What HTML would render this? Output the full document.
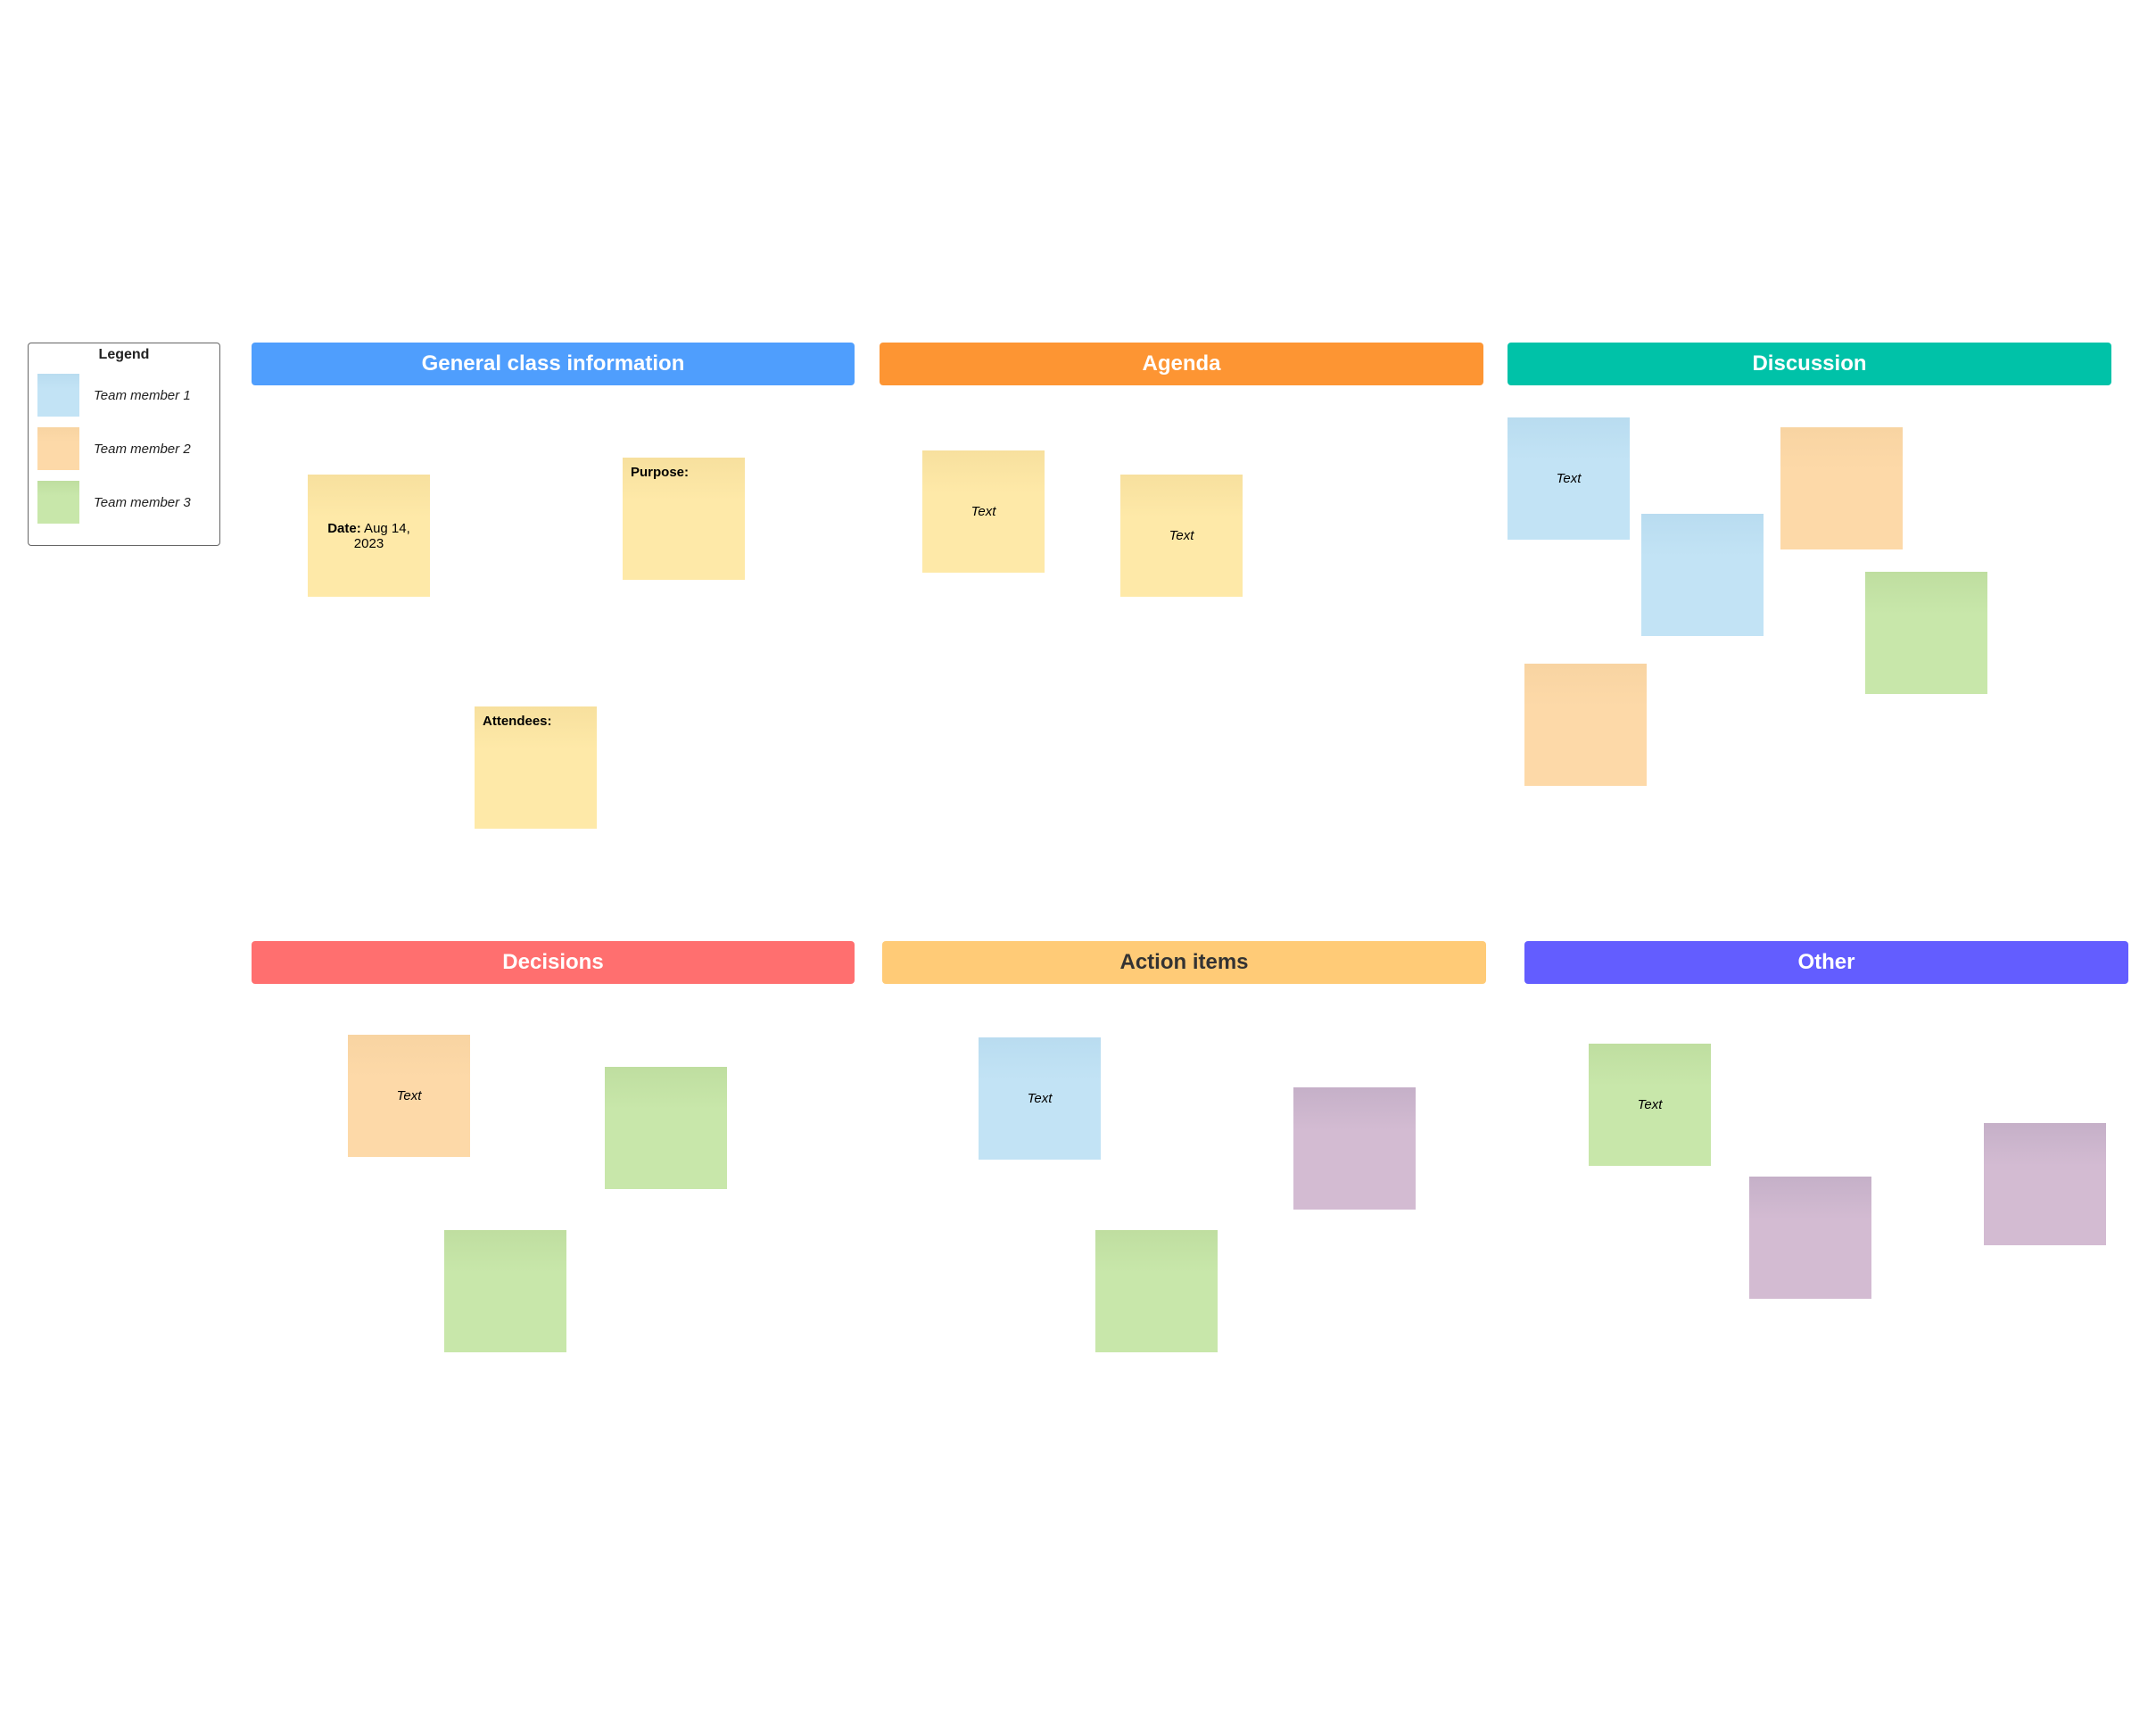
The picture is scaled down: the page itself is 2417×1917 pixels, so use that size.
<!DOCTYPE html>
<html><head><style>
body{margin:0;width:2417px;height:1917px;background:#fff;position:relative;overflow:hidden;font-family:"Liberation Sans",sans-serif}
.a{position:absolute}
.h{position:absolute;height:48px;border-radius:4px;color:#fff;font-weight:bold;font-size:24px;text-align:center;line-height:48px}
.s{position:absolute;width:137px;height:137px;display:flex;align-items:center;justify-content:center;font-size:15px;font-style:italic;box-sizing:border-box}
.y{background:linear-gradient(#f7e09e,#fee9a8 35%)}
.b{background:linear-gradient(#b9dcf0,#c2e3f5 35%)}
.o{background:linear-gradient(#f8d4a2,#fdd9a8 35%)}
.g{background:linear-gradient(#bfdea0,#c8e7aa 35%)}
.p{background:linear-gradient(#c5b0c8,#d3bbd2 35%)}
.t{align-items:flex-start;justify-content:flex-start;padding:8px 9px;font-style:normal;font-weight:bold}
.sw{position:absolute;left:42px;width:47px;height:48px}
.lb{position:absolute;left:105px;font-size:15px;font-style:italic;color:#222}
</style></head><body>
<div class="a" style="left:31px;top:384px;width:214px;height:226px;border:1.5px solid #666;border-radius:4px"></div>
<div class="a" style="left:31px;top:389px;width:216px;text-align:center;font-weight:bold;font-size:16px;color:#222">Legend</div>
<div class="sw b" style="top:419px"></div><div class="lb" style="top:435px">Team member 1</div>
<div class="sw o" style="top:479px"></div><div class="lb" style="top:495px">Team member 2</div>
<div class="sw g" style="top:539px"></div><div class="lb" style="top:555px">Team member 3</div>

<div class="h" style="left:282px;top:384px;width:676px;background:#4f9efd">General class information</div>
<div class="h" style="left:986px;top:384px;width:677px;background:#fd9533">Agenda</div>
<div class="h" style="left:1690px;top:384px;width:677px;background:#00c2a8">Discussion</div>
<div class="h" style="left:282px;top:1055px;width:676px;background:#ff6f6f">Decisions</div>
<div class="h" style="left:989px;top:1055px;width:677px;background:#ffcb77;color:#333">Action items</div>
<div class="h" style="left:1709px;top:1055px;width:677px;background:#635dff">Other</div>

<div class="s y" style="left:345px;top:532px;font-style:normal;text-align:center"><span><b>Date:</b> Aug 14,<br>2023</span></div>
<div class="s y t" style="left:698px;top:513px">Purpose:</div>
<div class="s y t" style="left:532px;top:792px">Attendees:</div>
<div class="s y" style="left:1034px;top:505px">Text</div>
<div class="s y" style="left:1256px;top:532px">Text</div>

<div class="s b" style="left:1690px;top:468px">Text</div>
<div class="s b" style="left:1840px;top:576px"></div>
<div class="s o" style="left:1996px;top:479px"></div>
<div class="s g" style="left:2091px;top:641px"></div>
<div class="s o" style="left:1709px;top:744px"></div>

<div class="s o" style="left:390px;top:1160px">Text</div>
<div class="s g" style="left:678px;top:1196px"></div>
<div class="s g" style="left:498px;top:1379px"></div>

<div class="s b" style="left:1097px;top:1163px">Text</div>
<div class="s p" style="left:1450px;top:1219px"></div>
<div class="s g" style="left:1228px;top:1379px"></div>

<div class="s g" style="left:1781px;top:1170px">Text</div>
<div class="s p" style="left:1961px;top:1319px"></div>
<div class="s p" style="left:2224px;top:1259px"></div>
</body></html>
